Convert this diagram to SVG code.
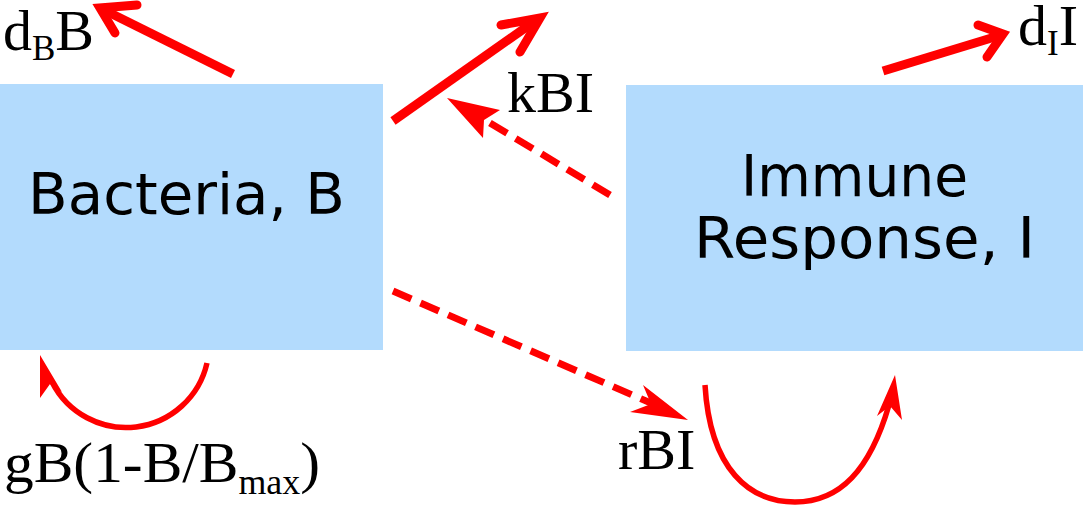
<svg xmlns="http://www.w3.org/2000/svg" width="1083" height="505" viewBox="0 0 1083 505">
<style>
.box{fill:#b3dbfd}
.lbl{font-family:"DejaVu Sans",sans-serif;font-size:57px;fill:#000}
.math{font-family:"Liberation Serif","Times New Roman",serif;font-size:58px;fill:#000}
.sub{font-size:35px}
.solid{fill:none;stroke:#ff0000;stroke-width:9}
.head{fill:none;stroke:#ff0000;stroke-width:9;stroke-linecap:round;stroke-linejoin:miter}
.dash{fill:none;stroke:#ff0000;stroke-width:7;stroke-dasharray:20 10}
.curve{fill:none;stroke:#ff0000;stroke-width:5.5}
.fhead{fill:#ff0000;stroke:none}
</style>
<g id="bacteria">
<rect class="box" x="0" y="84" width="383" height="266"/>
<text class="lbl" x="28" y="214" textLength="317" lengthAdjust="spacingAndGlyphs">Bacteria, B</text>
</g>
<g id="immune">
<rect class="box" x="626" y="85" width="457" height="266"/>
<text class="lbl" x="741" y="196" textLength="227" lengthAdjust="spacingAndGlyphs">Immune</text>
<text class="lbl" x="694" y="258" textLength="341" lengthAdjust="spacingAndGlyphs">Response, I</text>
</g>
<g id="connectors">
<path class="solid" d="M233,74 L104,10"/>
<path class="head" d="M137,5 L100,8 L115,33"/>
<path class="solid" d="M393,121 L535,21"/>
<path class="head" d="M501,25 L540,18 L520,52"/>
<path class="solid" d="M883,71 L998,36"/>
<path class="head" d="M978,25 L1003,34 L987,57"/>
<path class="dash" d="M610,195 L470,111"/>
<polygon class="fhead" points="447,98 500,110 484,120 483,138"/>
<path class="dash" d="M393,291 L660,407"/>
<polygon class="fhead" points="688,420 643,385 651,404 630,412"/>
<path class="curve" d="M207,363 A83,83 0 0 1 52,382"/>
<polygon class="fhead" points="40,355 62,392 50,384 40,398"/>
<path class="curve" d="M705,385 C710,470 750,502 795,502 C840,502 870,470 889,405"/>
<polygon class="fhead" points="895,375 902,420 890,406 877,416"/>
</g>
<g id="labels">
<text class="math" x="3" y="50">d<tspan class="sub" dy="10">B</tspan><tspan dy="-10">B</tspan></text>
<text class="math" x="507" y="112">kBI</text>
<text class="math" x="1018" y="45">d<tspan class="sub" dy="10">I</tspan><tspan dy="-10">I</tspan></text>
<text class="math" x="618" y="469">rBI</text>
<text class="math" x="4" y="482" textLength="316" lengthAdjust="spacingAndGlyphs">gB(1-B/B<tspan class="sub" dy="12">max</tspan><tspan dy="-12">)</tspan></text>
</g>
</svg>
